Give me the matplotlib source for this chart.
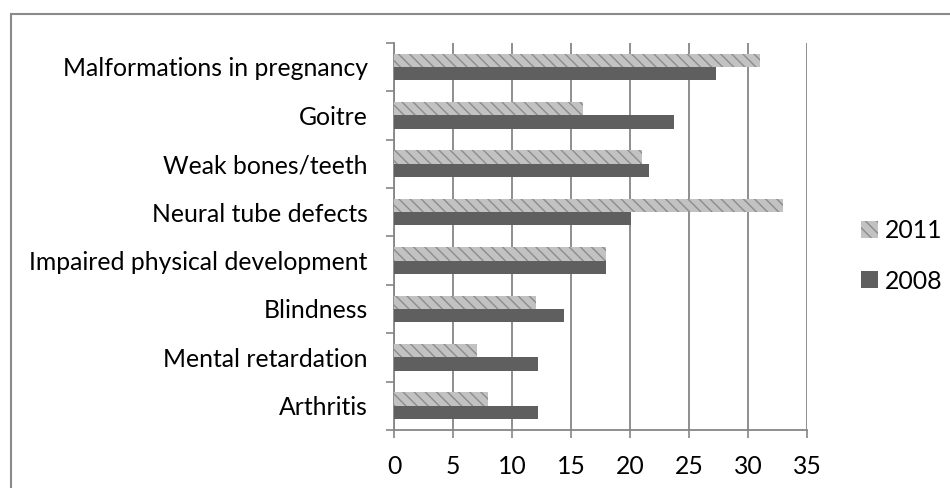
import numpy as np
import matplotlib
matplotlib.use("Agg")
from matplotlib import pyplot as plt
from matplotlib.patches import Rectangle

# categories listed bottom to top
categories = ["Arthritis", "Mental retardation", "Blindness",
              "Impaired physical development", "Neural tube defects",
              "Weak bones/teeth", "Goitre", "Malformations in pregnancy"]
vals_2011 = [8, 7, 12, 18, 33, 21, 16, 31]
vals_2008 = [12.2, 12.2, 14.4, 18, 20.1, 21.6, 23.7, 27.3]
xticks = [0, 5, 10, 15, 20, 25, 30, 35]

plt.rcParams['font.family'] = ['Lato', 'DejaVu Sans']
fs = 17.8
grey = "#868686"

fig = plt.figure(figsize=(9.5, 4.88), dpi=100)
ax = fig.add_axes([394/950, 1-430/488, (807-394)/950, (430-42.7)/488])

y = np.arange(len(categories))
h = 0.275
#2011 bars: light textured look via hatch
b1 = ax.barh(y+h/2, vals_2011, height=h, color="#c2c2c2", edgecolor="#8c8c8c",
             hatch="\\\\\\", linewidth=0, label="2011", zorder=3)
b2 = ax.barh(y-h/2, vals_2008, height=h, color="#5f5f5f", linewidth=0,
             label="2008", zorder=3)

ax.set_xlim(0, 35)
ax.set_ylim(-0.5, len(categories)-0.5)
ax.set_xticks(xticks)
ax.set_yticks(y)
ax.set_yticklabels(categories)
ax.set_yticks(np.arange(len(categories)+1)-0.5, minor=True)
ax.tick_params(axis='y', which='major', length=0, pad=19, labelsize=fs)
ax.tick_params(axis='y', which='minor', length=6, width=1.2, color=grey, direction='out')
ax.tick_params(axis='x', length=6, width=1.2, color=grey, direction='out', pad=12, labelsize=fs)
ax.xaxis.grid(True, color=grey, linewidth=1.3, zorder=0)
for s in ['top', 'right']:
    ax.spines[s].set_visible(False)
for s in ['left', 'bottom']:
    ax.spines[s].set_color(grey)
    ax.spines[s].set_linewidth(1.3)

leg = ax.legend(handles=[b1, b2], loc='center left', bbox_to_anchor=(861/950, 1-256/488),
                bbox_transform=fig.transFigure, frameon=False, fontsize=fs,
                handlelength=0.68, handleheight=0.68, handletextpad=0.28, labelspacing=1.1,
                borderpad=0, borderaxespad=0)

#outer chart border (top and left only visible)
fig.patches.append(Rectangle((11/950, -0.1), 1.0, 1-14/488+0.1, transform=fig.transFigure,
                             fill=False, edgecolor="#8a8a8a", linewidth=1.5))

fig.savefig("out.png", dpi=100)
